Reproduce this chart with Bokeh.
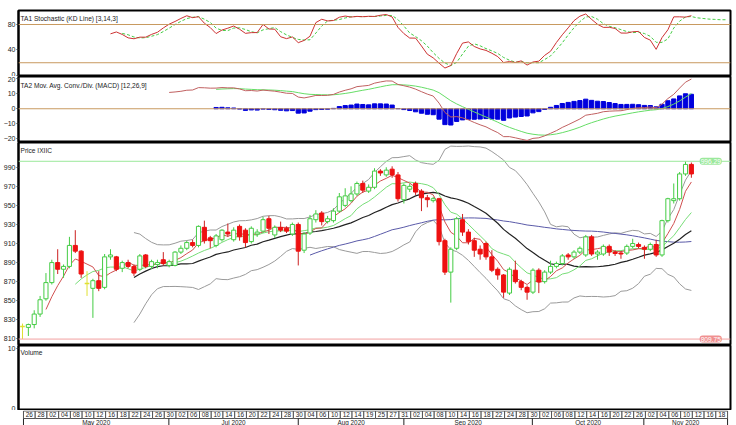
import numpy as np
import pandas as pd
from bokeh.plotting import figure
from bokeh.models import Range1d, Label, FixedTicker, Span, ColumnDataSource, CDSView, BooleanFilter
from bokeh.layouts import column
from bokeh.embed import file_html
from bokeh.resources import INLINE
from bokeh.core.properties import value

# ---------------- data ----------------
opens = [823, 822, 825, 836, 852, 869, 890, 883, 886, 908,
         902, 868, 863, 871, 864, 896, 896, 884, 890, 886,
         883, 898, 886, 888, 893, 887, 887, 901, 905, 911,
         908, 927, 916, 908, 914, 922, 914, 928, 924, 912,
         920, 923, 936, 919, 927, 926, 920, 930, 903, 921,
         935, 942, 933, 934, 944, 950, 955, 962, 973, 965,
         969, 986, 982, 988, 982, 956, 967, 973, 965, 958,
         955, 957, 913, 880, 905, 935, 922, 913, 904, 910,
         896, 883, 877, 858, 882, 870, 864, 859, 882, 870,
         880, 886, 889, 898, 896, 901, 898, 917, 899, 899,
         907, 901, 900, 900, 907, 909, 906, 904, 909, 898,
         934, 955, 957, 983, 993]
closes = [823, 825, 836, 851, 869, 890, 883, 886, 908, 902,
          878, 868, 871, 863, 896, 898, 883, 890, 886, 879,
          897, 886, 891, 890, 889, 891, 901, 905, 911, 908,
          928, 913, 913, 918, 924, 920, 924, 917, 911, 926,
          922, 935, 926, 927, 924, 923, 930, 902, 920, 936,
          941, 933, 936, 944, 959, 960, 962, 973, 966, 969,
          986, 984, 987, 982, 957, 971, 970, 964, 958, 956,
          957, 912, 880, 904, 936, 922, 912, 903, 899, 896,
          882, 877, 859, 883, 870, 864, 859, 882, 870, 880,
          886, 889, 897, 896, 901, 905, 917, 899, 901, 907,
          901, 899.5, 899, 907, 910, 907, 904, 909, 898, 934,
          957, 957, 983, 993, 983]
highs = [826, 826, 840, 855, 879, 893, 904, 888, 917, 924,
         903, 881, 873, 881, 899, 904, 897, 892, 893, 888,
         899, 899, 893, 893, 901, 893, 902, 908, 913, 914,
         929, 934, 918, 920, 925, 931, 927, 930, 926, 928,
         925, 938, 939, 929, 933, 928, 932, 932, 922, 940,
         945, 944, 939, 947, 963, 968, 970, 975, 976, 972,
         989, 988, 990, 991, 985, 973, 973, 975, 967, 961,
         959, 958, 915, 906, 938, 941, 925, 916, 908, 912,
         903, 885, 878, 885, 892, 872, 866, 884, 884, 882,
         892, 891, 899, 900, 903, 907, 919, 919, 903, 909,
         909, 903, 902, 909, 915, 911, 908, 911, 914, 935,
         958, 973, 985, 996.29, 995]
lows = [809.75, 813, 821, 833, 850, 867, 878, 874, 884, 900,
        874, 855, 832, 860, 862, 893, 881, 880, 884, 876,
        881, 884, 883, 884, 887, 885, 886, 899, 903, 906,
        906, 910, 905, 906, 912, 917, 912, 913, 906, 910,
        917, 921, 920, 916, 922, 921, 918, 887, 900, 919,
        932, 929, 931, 932, 942, 948, 953, 960, 963, 963,
        967, 981, 980, 979, 954, 952, 964, 961, 944, 948,
        953, 908, 877, 848, 903, 918, 909, 896, 893, 893,
        880, 872, 853, 856, 868, 861, 851, 857, 858, 868,
        878, 884, 887, 893, 894, 899, 896, 897, 893, 897,
        897, 897, 894, 898, 905, 905, 894, 902, 896, 896,
        932, 952, 955, 981, 979]

# %D values drawn past the last bar
stoch_d_tail = [90.5, 89.5, 88.5, 88, 87.5, 87.5]

day_labels = ["26", "28", "02", "04", "08", "10", "12", "16", "18", "22", "24", "26",
              "30", "02", "06", "08", "10", "14", "16", "20", "22", "24", "28", "30",
              "04", "06", "10", "12", "14", "19", "25", "27", "31", "02", "04", "08",
              "10", "14", "16", "18", "22", "24", "28", "30", "02", "06", "08", "12",
              "14", "16", "20", "22", "26", "02", "04", "06", "10", "12", "16", "18"]
month_labels = ["May 2020", "Jul 2020", "Aug 2020", "Sep 2020", "Oct 2020", "Nov 2020"]

stoch_ticks = [0, 40, 80]
macd_ticks = [-20, -10, 0, 10, 20]
price_ticks = [810, 830, 850, 870, 890, 910, 930, 950, 970, 990]
volume_ticks = [0, 10]
max_high = 996.29
min_low = 809.75

# ---------------- layout constants ----------------
W = 736
XR = Range1d(-0.679, 120.67)
FONT = "Liberation Sans"
month_edges = [0.17, 24.95, 47.0, 65.0, 86.9, 105.9, 120.17]

n = len(closes)
x = np.arange(n)
c = pd.Series(closes, dtype=float)
h = pd.Series(highs, dtype=float)
l = pd.Series(lows, dtype=float)
o = pd.Series(opens, dtype=float)

# indicators derived from the read prices
ma5 = c.rolling(5).mean()
ma10 = c.rolling(10).mean()
mid20 = c.rolling(20).mean()
sd20 = c.rolling(20).std(ddof=0)
bb_up = mid20 + 2 * sd20
bb_lo = mid20 - 2 * sd20
ma50 = c.rolling(50).mean()

hh = h.rolling(14).max()
ll = l.rolling(14).min()
rawk = 100 * (c - ll) / (hh - ll)
stk = rawk.rolling(3).mean()
std_ = stk.rolling(3).mean()
d_x = np.concatenate([x, np.arange(n, n + len(stoch_d_tail))])
d_y = np.concatenate([std_.values, np.array(stoch_d_tail)])

ema12 = c.ewm(span=12, adjust=False).mean()
ema26 = c.ewm(span=26, adjust=False).mean()
macd = (ema12 - ema26)
macd[:25] = np.nan
sig = pd.Series(np.nan, index=c.index)
sig[25:] = macd[25:].ewm(span=9, adjust=False).mean()
sig[:33] = np.nan
hist = macd - sig


def base_fig(height, yr, ticks, top=0):
    p = figure(width=W, height=height, x_range=XR, y_range=Range1d(*yr),
               output_backend="svg", toolbar_location=None,
               x_axis_location=None, min_border_left=15, min_border_right=6,
               min_border_top=top, min_border_bottom=0,
               background_fill_color="white", border_fill_color="white")
    p.xgrid.visible = False
    p.ygrid.visible = False
    ax = p.yaxis[0]
    ax.ticker = FixedTicker(ticks=ticks)
    ax.axis_line_color = "black"
    ax.axis_line_width = 2
    ax.major_tick_out = 2
    ax.major_tick_in = 0
    ax.major_tick_line_color = "#333333"
    ax.minor_tick_line_color = None
    ax.major_label_text_font = FONT
    ax.major_label_text_font_size = "7px"
    ax.major_label_text_color = "#222222"
    ax.major_label_standoff = 1
    p.outline_line_color = "black"
    p.outline_line_width = 2
    p.outline_line_alpha = 1
    return p


def title(p, txt, yv):
    p.add_layout(Label(x=-0.34, y=yv, text=txt, text_font=FONT, text_font_size="6.6px",
                       text_color="#222222", text_baseline="middle"))


# ---------- Stochastic panel ----------
p1 = base_fig(76, (-1.6, 102), stoch_ticks, top=10)
p1.add_layout(Span(location=80, dimension="width", line_color="#c89a60", line_width=1))
p1.add_layout(Span(location=20, dimension="width", line_color="#c89a60", line_width=1))
p1.line(d_x, d_y, line_color="#44cc44", line_width=1, line_dash="3 2")
p1.line(x, stk, line_color="#cc3333", line_width=1)
title(p1, "TA1 Stochastic (KD Line) [3,14,3]", 89.4)

# ---------- MACD panel ----------
p2 = base_fig(66, (-22.5, 21.5), macd_ticks)
p2.add_layout(Span(location=0, dimension="width", line_color="#c89a60", line_width=1))
p2.vbar(x=x, top=hist, bottom=0, width=0.72, fill_color="#0000dd", line_color="#0000dd")
p2.line(x, sig, line_color="#66dd66", line_width=1)
p2.line(x, macd, line_color="#c06060", line_width=1)
title(p2, "TA2 Mov. Avg. Conv./Div. (MACD) [12,26,9]", 15.5)

# ---------- Price panel ----------
p3 = base_fig(203, (803, 1016), price_ticks)
p3.add_layout(Span(location=max_high, dimension="width", line_color="#9be89b", line_width=1))
p3.add_layout(Span(location=min_low, dimension="width", line_color="#f2a0a0", line_width=1))

p3.line(x, bb_up, line_color="#9a9a9a", line_width=1)
p3.line(x, bb_lo, line_color="#9a9a9a", line_width=1)
p3.line(x, ma50, line_color="#5a5aa8", line_width=1)
p3.line(x, mid20, line_color="#222222", line_width=1.2)
p3.line(x, ma10, line_color="#77dd77", line_width=1)
p3.line(x, ma5, line_color="#d05050", line_width=1)

up_mask = (c > o).values
dn_mask = (c < o).values
dj_mask = (c == o).values
src = ColumnDataSource(dict(x=x, o=o, c=c, h=h, l=l,
                            top=np.maximum(o, c), bot=np.minimum(o, c)))
v_up = CDSView(filter=BooleanFilter(list(up_mask)))
v_dn = CDSView(filter=BooleanFilter(list(dn_mask)))
v_dj = CDSView(filter=BooleanFilter(list(dj_mask)))

p3.segment(x0="x", y0="h", x1="x", y1="l", source=src, view=v_up, line_color="#44cc44", line_width=1)
p3.segment(x0="x", y0="h", x1="x", y1="l", source=src, view=v_dn, line_color="#cc2020", line_width=1)
p3.segment(x0="x", y0="h", x1="x", y1="l", source=src, view=v_dj, line_color="#e0e030", line_width=1)
p3.vbar(x="x", top="top", bottom="bot", width=0.7, source=src, view=v_up,
        fill_color="white", line_color="#44cc44", line_width=1)
p3.vbar(x="x", top="top", bottom="bot", width=0.7, source=src, view=v_dn,
        fill_color="#ee1111", line_color="#ee1111", line_width=1)
p3.segment(x0=x[dj_mask] - 0.4, y0=c[dj_mask], x1=x[dj_mask] + 0.4, y1=c[dj_mask],
           line_color="#e0e030", line_width=1.5)

p3.add_layout(Label(x=117.3, y=max_high, text=f"{max_high:.2f}", text_font=FONT,
                    text_font_size="6.6px", text_color="white", text_align="center",
                    text_baseline="middle", background_fill_color="#9be89b",
                    padding=1, border_radius=3))
p3.add_layout(Label(x=117.3, y=min_low, text=f"{min_low:.2f}", text_font=FONT,
                    text_font_size="6.6px", text_color="white", text_align="center",
                    text_baseline="middle", background_fill_color="#f09090",
                    padding=1, border_radius=3))
title(p3, "Price IXIIC", 1007.6)

# ---------- Volume panel ----------
p4 = base_fig(65, (0, 10.5), volume_ticks)
title(p4, "Volume", 9.37)

# ---------- Date axis ----------
p5 = figure(width=W, height=15, x_range=XR, y_range=Range1d(0, 15),
            output_backend="svg", toolbar_location=None,
            x_axis_location=None, y_axis_location=None,
            min_border_left=15, min_border_right=6, min_border_top=0, min_border_bottom=0)
p5.outline_line_color = None
p5.xgrid.visible = False
p5.ygrid.visible = False
k = np.arange(len(day_labels))
left = 0.17 + 2 * k
p5.quad(left=left, right=left + 2, bottom=7, top=14.5, fill_color="white",
        line_color="#555555", line_width=1)
p5.text(x=left + 1, y=np.full(len(k), 10.7), text=day_labels, text_align="center",
        text_baseline="middle", text_font=value(FONT), text_font_size="6.4px",
        text_color="#222222")
me = np.array(month_edges)
p5.segment(x0=me, y0=np.zeros(len(me)), x1=me, y1=np.full(len(me), 7),
           line_color="#222222", line_width=1)
mid_m = (me[:-1] + me[1:]) / 2
p5.text(x=mid_m, y=np.full(len(mid_m), 3.2), text=month_labels, text_align="center",
        text_baseline="middle", text_font=value(FONT), text_font_size="6.4px",
        text_color="#222222")

layout = column(p1, p2, p3, p4, p5, spacing=0)
open("out.html", "w").write(file_html(layout, INLINE))
